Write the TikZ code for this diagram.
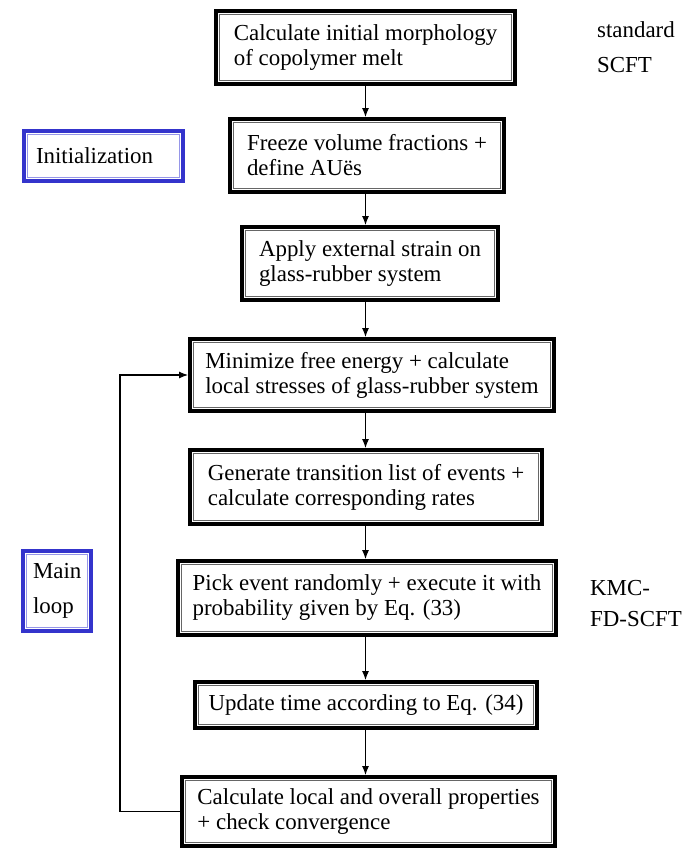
\documentclass[tikz,border=0pt]{standalone}
\usepackage{fontspec}
\setmainfont{Liberation Serif}
\usetikzlibrary{arrows.meta}
\definecolor{frameblue}{RGB}{52,52,204}
\definecolor{frameblueinner}{RGB}{150,150,232}
\begin{document}
\begin{tikzpicture}[x=1pt,y=-1pt,
  stepbox/.style={draw=black,line width=4pt,align=left,inner xsep=4pt,inner ysep=0pt,
    font=\fontsize{22.9}{25}\selectfont},
  tagbox/.style={draw=frameblue,line width=4pt,align=left,inner xsep=12pt,inner ysep=0pt,
    font=\fontsize{22.9}{35}\selectfont},
  innerline/.style={black!60,line width=1.5pt},
  tagline/.style={frameblueinner,line width=1.5pt},
  flow/.style={line width=1.1pt,-{Latex[length=9pt,width=7pt]}}]
  \useasboundingbox (0,0) rectangle (686,849);
  % steps of the scheme
  \node[stepbox,minimum width=299pt,minimum height=73pt] (b1) at (365.5,47.5)
    {Calculate initial morphology\\of copolymer melt};
  \node[stepbox,minimum width=274pt,minimum height=73pt] (b2) at (367,155.5)
    {Freeze volume fractions +\\define AUës};
  \node[stepbox,minimum width=256pt,minimum height=73pt] (b3) at (370,263.5)
    {Apply external strain on\\glass-rubber system};
  \node[stepbox,minimum width=364pt,minimum height=72pt] (b4) at (372,375)
    {Minimize free energy + calculate\\local stresses of glass-rubber system};
  \node[stepbox,minimum width=352pt,minimum height=74pt] (b5) at (366,487)
    {Generate transition list of events +\\calculate corresponding rates};
  \node[stepbox,minimum width=378pt,minimum height=74pt] (b6) at (367,598)
    {Pick event randomly + execute it with\\probability given by Eq. (33)};
  \node[stepbox,minimum width=342pt,minimum height=46pt] (b7) at (366,705)
    {Update time according to Eq. (34)};
  \node[stepbox,minimum width=373pt,minimum height=69pt] (b8) at (368.5,811.5)
    {Calculate local and overall properties\\+ check convergence};
  \foreach \n in {b1,b2,b3,b4,b5,b6,b7,b8}
    \draw[innerline] ([shift={(5.5,5.5)}]\n.north west) rectangle ([shift={(-5.5,-5.5)}]\n.south east);
  % blue tags on the left
  \node[tagbox,text width=135pt,minimum height=50pt] (init) at (103.5,156) {Initialization};
  \node[tagbox,inner xsep=10pt,text width=48pt,minimum height=80pt] (mainloop) at (57,591) {Main\\loop};
  \foreach \n in {init,mainloop}
    \draw[tagline] ([shift={(5.5,5.5)}]\n.north west) rectangle ([shift={(-5.5,-5.5)}]\n.south east);
  % labels on the right
  \node[anchor=west,align=left,inner sep=0pt,font=\fontsize{22.9}{35}\selectfont] (scft) at (597,47)
    {standard\\SCFT};
  \node[anchor=west,align=left,inner sep=0pt,font=\fontsize{22.9}{31}\selectfont] (kmc) at (590,604)
    {KMC-\\FD-SCFT};
  % arrows
  \foreach \a/\b in {b1/b2,b2/b3,b3/b4,b4/b5,b5/b6,b6/b7,b7/b8}
    \draw[flow] (\a.south -| b1) -- (\b.north -| b1);
  \draw[flow] (b8.west) -- ++(-60,0) |- (b4.west);
\end{tikzpicture}
\end{document}
